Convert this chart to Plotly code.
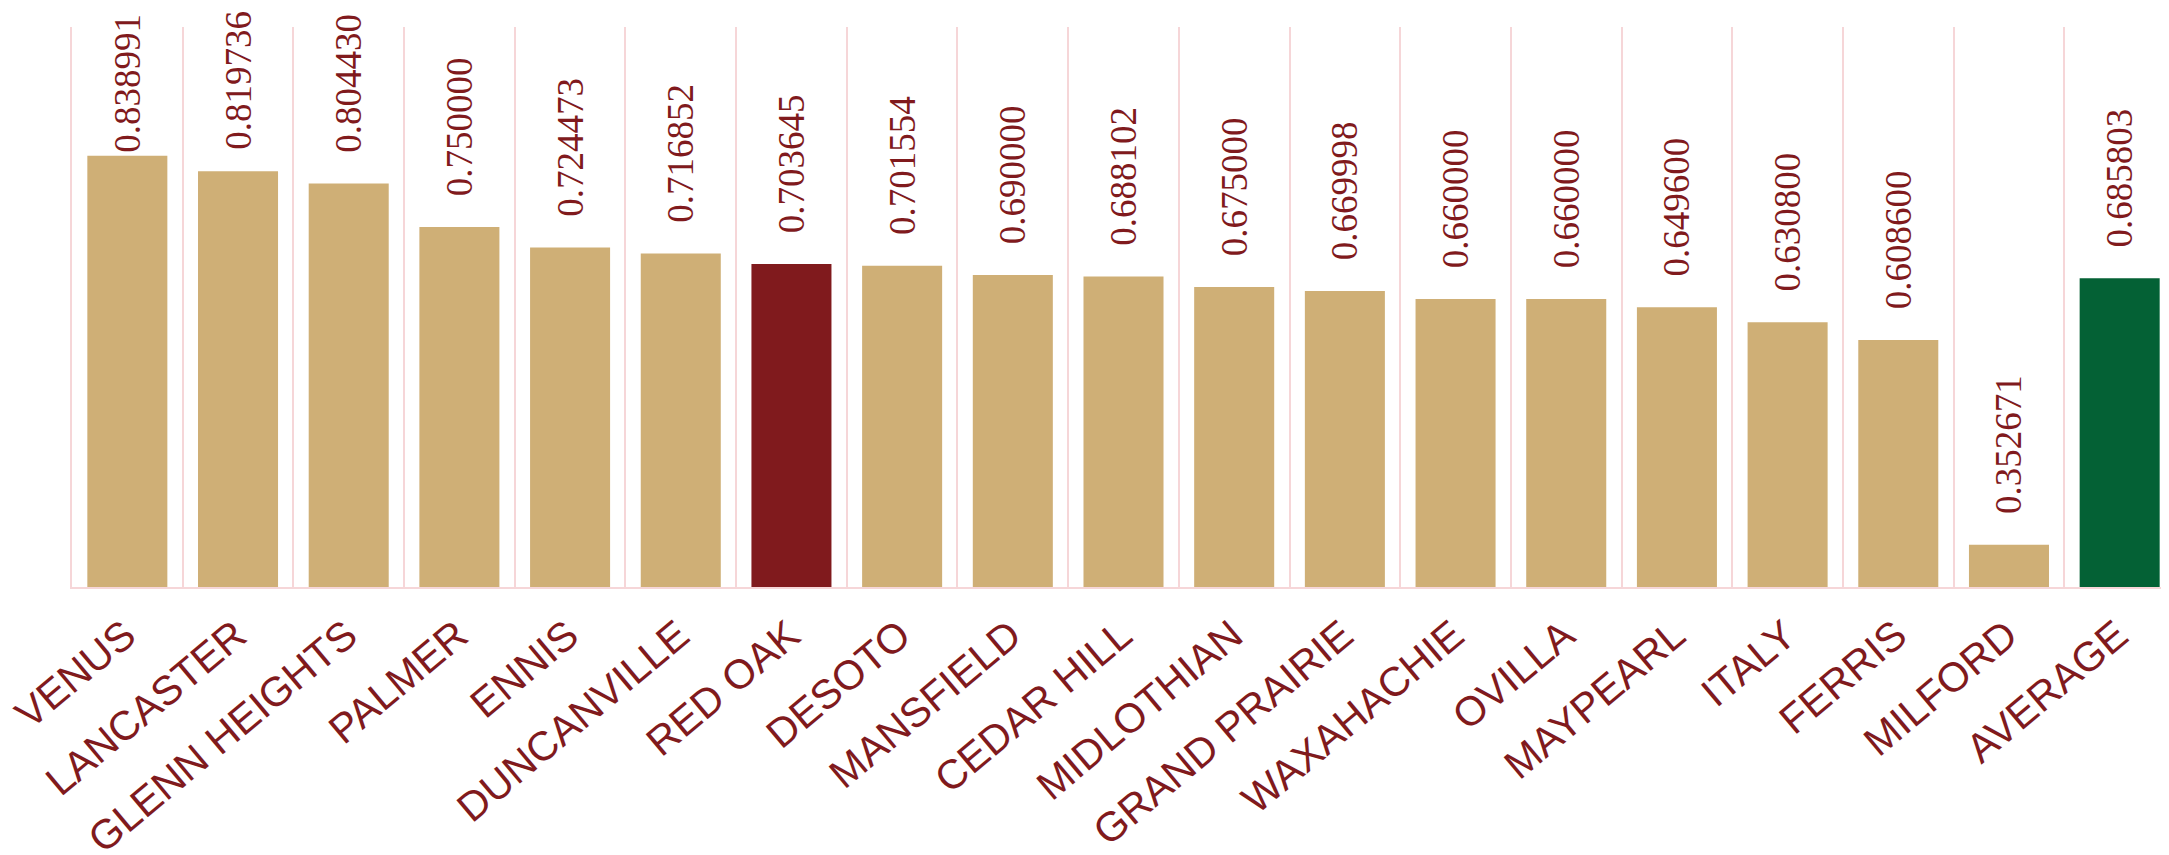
import plotly.graph_objects as go

cities = ["VENUS", "LANCASTER", "GLENN HEIGHTS", "PALMER", "ENNIS", "DUNCANVILLE",
          "RED OAK", "DESOTO", "MANSFIELD", "CEDAR HILL", "MIDLOTHIAN", "GRAND PRAIRIE",
          "WAXAHACHIE", "OVILLA", "MAYPEARL", "ITALY", "FERRIS", "MILFORD", "AVERAGE"]
values = [0.838991, 0.819736, 0.804430, 0.750000, 0.724473, 0.716852,
          0.703645, 0.701554, 0.690000, 0.688102, 0.675000, 0.669998,
          0.660000, 0.660000, 0.649600, 0.630800, 0.608600, 0.352671, 0.685803]

TAN = "#CFAF76"
MAROON = "#801A1D"
GREEN = "#046135"
GRID = "#F6D6D8"

colors = []
for c in cities:
    if c == "RED OAK":
        colors.append(MAROON)
    elif c == "AVERAGE":
        colors.append(GREEN)
    else:
        colors.append(TAN)

# label text; the tallest labels sit closer to their bars so they stay inside the page
labels = []
for v in values:
    if v >= 0.83:
        pad = ""
    elif v >= 0.81:
        pad = "\u00a0\u00a0"
    else:
        pad = "\u00a0\u00a0\u00a0"
    labels.append(pad + f"{v:.6f}")

fig = go.Figure(go.Bar(
    x=cities, y=values,
    marker=dict(color=colors, line=dict(width=0)),
    text=labels,
    textposition="outside",
    textangle=-90,
    constraintext="none",
    textfont=dict(family="Liberation Serif, Times New Roman, serif", size=37, color=MAROON),
    cliponaxis=False,
))

fig.update_layout(
    width=2169, height=855,
    margin=dict(l=64, r=2, t=19, b=276, autoexpand=False),
    paper_bgcolor="white", plot_bgcolor="white",
    bargap=0.277,
    showlegend=False,
)
fig.update_xaxes(
    type="category",
    range=[-0.5, 18.5],
    automargin=False,
    tickson="boundaries",
    showgrid=True, gridcolor=GRID, gridwidth=1.5,
    showline=True, linecolor=GRID, linewidth=2,
    ticks="", tickangle=-40,
    ticklabelstandoff=6,
    ticklabelshift=-2,
    tickfont=dict(family="Liberation Sans, Arial, sans-serif", size=41, color=MAROON),
)
fig.update_yaxes(
    range=[0.3, 1.0],
    automargin=False,
    showgrid=False, zeroline=False,
    showticklabels=False, ticks="",
    showline=True, linecolor=GRID, linewidth=1.5,
)

fig.write_html("out.html")
